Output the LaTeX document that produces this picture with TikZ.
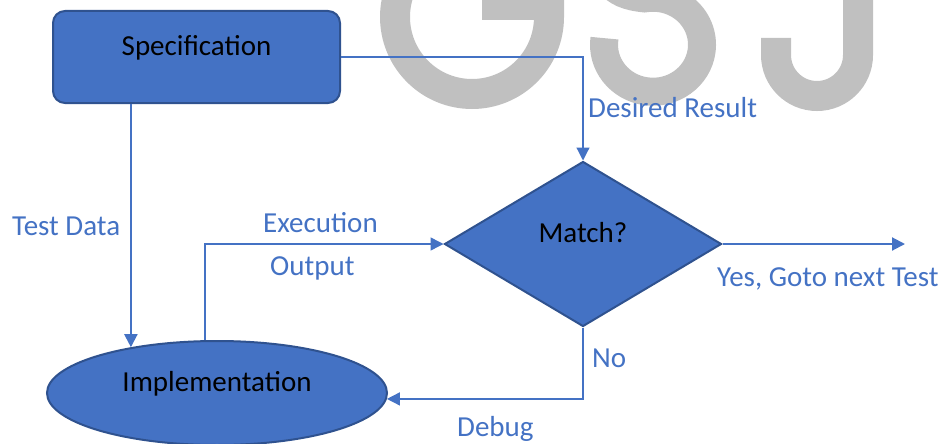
\documentclass[tikz,border=0pt]{standalone}
\usepackage{fontspec}
\setmainfont{Carlito}
\usetikzlibrary{shapes.geometric,arrows.meta}
\definecolor{obl}{HTML}{4472C4}
\definecolor{obd}{HTML}{2F528F}
\definecolor{wm}{HTML}{C0C0C0}
\begin{document}
\begin{tikzpicture}[x=1pt,y=-1pt,
  shp/.style={fill=obl,draw=obd,line width=2pt,inner sep=0pt,text=black,font=\fontsize{29}{34}\selectfont},
  lbl/.style={text=obl,inner sep=0pt,anchor=base west,font=\fontsize{29}{34}\selectfont},
  cn/.style={draw=obl,line width=1.5pt},
  tip/.style={-{Triangle[length=13pt,width=13pt]}},
  wmk/.style={draw=wm,line width=30pt}]
\clip (0,0) rectangle (947,444);
\useasboundingbox (0,0) rectangle (947,444);
% watermark (letters G S J, cut off at the top)
\draw[wmk] (472,17) ++(-45:77) arc[start angle=-45,end angle=-360,radius=77] -- (549,5) -- (482,5);
\draw[wmk,line width=28pt] (653,45) ++(188:49) arc[start angle=188,end angle=-100,x radius=49,y radius=47] .. controls (610,-5) and (600,-20) .. (600,-60);
\draw[wmk] (858,-80) -- (858,55) arc[start angle=0,end angle=180,radius=41] -- (776,38);
% shapes
\node[shp,rounded corners=12pt,minimum width=287pt,minimum height=92pt,text height=20pt,text depth=22pt] (spec) at (196.5,57) {Specification};
\node[shp,ellipse,minimum width=340pt,minimum height=104pt,text height=20pt,text depth=24pt] (impl) at (217,393) {Implementation};
\node[shp,diamond,aspect=1.68,minimum width=277pt,minimum height=165pt,text height=20pt,text depth=24pt] (match) at (583,244) {Match?};
\coordinate (yend) at (905,244);
% connectors
\draw[cn,line width=1.2pt,tip] (spec.east) -| (match.north);
\draw[cn,line width=2pt,tip] (impl.152.7 |- spec.south) -- (impl.152.7);
\draw[cn,tip] (impl.103) |- (match.west);
\draw[cn,line width=2pt,tip] (match.east) -- (yend);
\draw[cn,tip] (match.south) |- (impl.-2);
% labels
\node[lbl] (ldr) at (588,117) {Desired Result};
\node[lbl] (ltd) at (12,235) {Test Data};
\node[lbl] (lex) at (263,232) {Execution};
\node[lbl] (lout) at (270,275) {Output};
\node[lbl] (lyes) at (717,286) {Yes, Goto next Test};
\node[lbl] (lno) at (592,367) {No};
\node[lbl] (ldb) at (457,436) {Debug};
\end{tikzpicture}
\end{document}
